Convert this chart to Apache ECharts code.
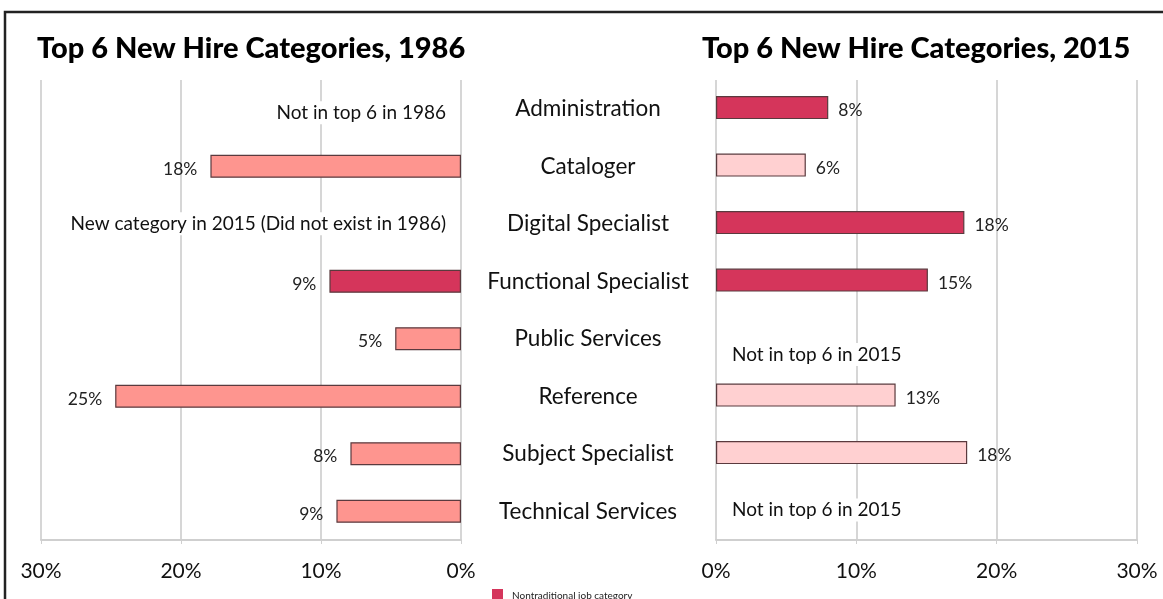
<!DOCTYPE html>
<html>
<head>
<meta charset="utf-8">
<script src="https://cdn.jsdelivr.net/npm/echarts@6/dist/echarts.min.js"></script>
<style>
  html, body { margin: 0; padding: 0; background: #fff; }
  #main { width: 1163px; height: 599px; }
</style>
</head>
<body>
<div id="main"></div>
<script>
// categories, top to bottom
const categories = ['Administration', 'Cataloger', 'Digital Specialist', 'Functional Specialist',
  'Public Services', 'Reference', 'Subject Specialist', 'Technical Services'];
// share of new hires (%); null = not in top 6
const hires1986 = [null, 17.9, null, 9.4, 4.7, 24.7, 7.9, 8.9];
const hires2015 = [8, 6.4, 17.7, 15.1, null, 12.8, 17.9, null];
// nontraditional job category flags
const nontrad1986 = [false, false, false, true, false, false, false, false];
const nontrad2015 = [true, false, true, true, false, false, false, false];
// notes where there is no bar
const notes1986 = ['Not in top 6 in 1986', '', 'New category in 2015 (Did not exist in 1986)', '', '', '', '', ''];
const notes2015 = ['', '', '', '', 'Not in top 6 in 2015', '', '', 'Not in top 6 in 2015'];

const FONT = 'Lato';
const DARK = '#d5355b';
const SALMON = '#fe958f';
const PALE = '#ffd0d1';

function barData(values, flags, notes, side, lightColor) {
  return values.map(function (v, i) {
    if (v === null) {
      return {
        value: 0,
        itemStyle: { color: 'transparent', borderWidth: 0 },
        label: {
          show: true,
          position: side,
          distance: side === 'left' ? 15 : 16,
          formatter: notes[i],
          fontSize: 19,
          color: '#111',
          backgroundColor: '#fff',
          padding: [2, 0],
          offset: (side === 'right' && i === 4) ? [0, 17] : (i === 0 ? [0, 4] : [0, 0])
        }
      };
    }
    return {
      value: v,
      itemStyle: { color: flags[i] ? DARK : lightColor },
      label: {
        show: true,
        position: side,
        distance: side === 'left' ? 13 : 10,
        formatter: Math.round(v) + '%',
        fontSize: 17.5,
        color: '#222',
        offset: [0, 3]
      }
    };
  });
}

const chart = echarts.init(document.getElementById('main'));

const valueAxis = function (gridIndex, inverse) {
  return {
    type: 'value',
    gridIndex: gridIndex,
    min: 0,
    max: 30,
    interval: 10,
    inverse: inverse,
    axisLine: { show: true, lineStyle: { color: '#cfcfcf', width: 2 } },
    axisTick: { show: true, length: 4, lineStyle: { color: '#cfcfcf' } },
    splitLine: { show: true, lineStyle: { color: '#c9c9c9', width: 1.5 } },
    axisLabel: { fontFamily: FONT, fontSize: 21, color: '#111', margin: 21, formatter: '{value}%' }
  };
};

chart.setOption({
  animation: false,
  textStyle: { fontFamily: FONT },
  title: [
    { text: 'Top 6 New Hire Categories, 1986', left: 32, top: 29,
      textStyle: { fontFamily: FONT, fontWeight: 900, fontSize: 29, color: '#000' } },
    { text: 'Top 6 New Hire Categories, 2015', left: 697, top: 29,
      textStyle: { fontFamily: FONT, fontWeight: 900, fontSize: 29, color: '#000' } }
  ],
  legend: {
    left: 487,
    top: 584,
    icon: 'rect',
    itemWidth: 11,
    itemHeight: 14,
    data: [{ name: 'Nontraditional job category', itemStyle: { color: DARK } }],
    textStyle: { fontFamily: FONT, fontSize: 10, color: '#222', padding: [0, 0, 0, 4] }
  },
  grid: [
    { left: 41, right: 1163 - 461, top: 80, bottom: 59 },
    { left: 716, right: 1163 - 1137, top: 80, bottom: 59 }
  ],
  xAxis: [valueAxis(0, true), valueAxis(1, false)],
  yAxis: [
    {
      type: 'category',
      gridIndex: 0,
      data: categories,
      inverse: true,
      position: 'right',
      axisLine: { show: false },
      axisTick: { show: false },
      axisLabel: { align: 'center', margin: 127, fontFamily: FONT, fontSize: 22.5, color: '#111' }
    },
    {
      type: 'category',
      gridIndex: 1,
      data: categories,
      inverse: true,
      axisLine: { show: false },
      axisTick: { show: false },
      axisLabel: { show: false }
    }
  ],
  series: [
    {
      name: '1986',
      type: 'bar',
      xAxisIndex: 0,
      yAxisIndex: 0,
      barWidth: 23,
      itemStyle: { borderColor: '#5a3a3e', borderWidth: 1.2 },
      data: barData(hires1986, nontrad1986, notes1986, 'left', SALMON),
      z: 3
    },
    {
      name: '2015',
      type: 'bar',
      xAxisIndex: 1,
      yAxisIndex: 1,
      barWidth: 23,
      itemStyle: { borderColor: '#5a3a3e', borderWidth: 1.2 },
      data: barData(hires2015, nontrad2015, notes2015, 'right', PALE),
      z: 3
    },
    {
      name: 'Nontraditional job category',
      type: 'bar',
      xAxisIndex: 1,
      yAxisIndex: 1,
      data: [],
      itemStyle: { color: DARK }
    }
  ],
  graphic: [
    {
      type: 'polyline',
      shape: { points: [[5, 640], [5, 12], [1200, 12]] },
      style: { stroke: '#222', lineWidth: 2.5, fill: null },
      silent: true
    }
  ]
});
</script>
</body>
</html>
